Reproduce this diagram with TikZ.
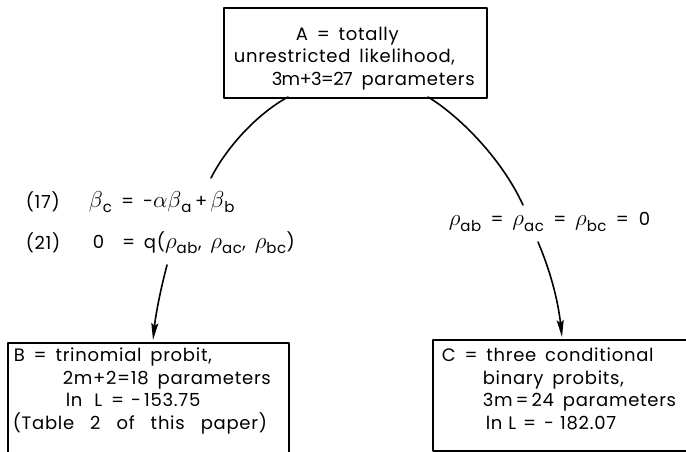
\documentclass[tikz,border=0pt]{standalone}
\usepackage{fix-cm}
\usepackage{fontspec}
\setmainfont{Poppins}[LetterSpace=4,WordSpace=1.6]
\usetikzlibrary{arrows.meta}

\newcommand{\lsub}[1]{_{\mbox{\fontsize{15}{15}\selectfont #1}}}
\newcommand{\gk}[1]{\mbox{\fontsize{23}{23}\selectfont$#1$}}

\begin{document}
\begin{tikzpicture}[line width=1.6pt, line cap=round, line join=round, >={Stealth[length=17pt,width=7pt,inset=3pt]}, x=1pt, y=-1pt,
  box/.style={draw, anchor=north west, inner sep=0pt},
  txt/.style={anchor=north west, align=left, inner sep=0pt, font=\fontsize{18}{22.5}\selectfont},
  eqn/.style={anchor=west, inner sep=0pt, font=\fontsize{18}{22.5}\selectfont}]
  \useasboundingbox (0,0) rectangle (686,451);
  \clip (0,0) rectangle (686,451);

  % boxes
  \node[box, minimum width=263pt, minimum height=90pt] (boxA) at (223,7) {};
  \node[box, minimum width=281pt, minimum height=125pt] (boxB) at (7,342) {};
  \node[box, minimum width=270pt, minimum height=111pt] (boxC) at (432,339) {};

  \node[txt] (textA) at (233,26) {\hspace*{62pt}A = totally\\
    unrestricted likelihood,\\
    \hspace*{38pt}{\addfontfeature{LetterSpace=-4}3m+3=27} parameters};
  \node[txt] (textB) at (12,347) {\hspace*{1pt}B = trinomial probit,\\
    \hspace*{50pt}2m+2=18 parameters\\
    \hspace*{53pt}ln\hspace{12pt}L\hspace{9pt}=\hspace{7pt}-\,153.75\\
    (Table\hspace{16pt}2\hspace{16pt}of\hspace{16pt}this\hspace{16pt}paper)};
  \node[txt] (textC) at (441,347) {C = three conditional\\
    \hspace*{41pt}binary probits,\\
    \hspace*{41pt}3m\,=\,24 parameters\\
    \hspace*{44pt}ln\hspace{6pt}L\hspace{7pt}=\hspace{8pt}-\hspace{6pt}182.07};

  % restrictions
  \node[eqn] (n17) at (25,202) {(17)};
  \node[eqn] (eq17) at (88,202) {$\gk{\beta}\lsub{c}\mbox{ = -}\gk{\alpha}\gk{\beta}\lsub{a}\mbox{\,+\,}\gk{\beta}\lsub{b}$};
  \node[eqn] (n21) at (25,243) {(21)};
  \node[eqn] (eq21) at (92,243) {0\hspace{18pt}= q($\gk{\rho}\lsub{ab}$, $\gk{\rho}\lsub{ac}$, $\gk{\rho}\lsub{bc}$)};
  \node[eqn] (eqR) at (448,222) {$\gk{\rho}\lsub{ab}$ = $\gk{\rho}\lsub{ac}$ = $\gk{\rho}\lsub{bc}$ =\hspace{10pt}0};

  \coordinate (aL) at (288,97);
  \coordinate (aR) at (428,97);
  \coordinate (lTop) at (211,178);
  \coordinate (lBot) at (167,265);
  \coordinate (rTop) at (523,205);
  \coordinate (rBot) at (538,242);
  \coordinate (bIn) at (153,340);
  \coordinate (cIn) at (562,337);

  \draw (aL) .. controls (255,115) and (225,150) .. (lTop);
  \draw (aR) .. controls (455,113) and (500,155) .. (rTop);
  \draw[->] (lBot) .. controls (161,288) and (156,312) .. (bIn);
  \draw[->] (rBot) .. controls (550,270) and (558,300) .. (cIn);
\end{tikzpicture}
\end{document}
